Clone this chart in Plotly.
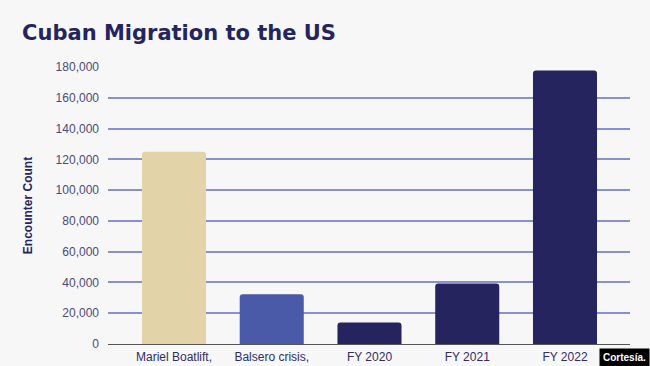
import plotly.graph_objects as go

categories = ["Mariel Boatlift,", "Balsero crisis,", "FY 2020", "FY 2021", "FY 2022"]
values = [125000, 32400, 14000, 39300, 177700]
colors = ["#e3d3a9", "#4a5aa8", "#25245e", "#25245e", "#25245e"]
y_ticks = list(range(0, 180001, 20000))
y_tick_labels = [f"{v:,}" for v in y_ticks]

fig = go.Figure(go.Bar(
    x=list(range(len(categories))), y=values, marker=dict(color=colors, line=dict(width=0)),
    width=0.655, hoverinfo="skip"))

fig.update_layout(
    width=650, height=366,
    paper_bgcolor="#f7f7f7", plot_bgcolor="#f7f7f7",
    margin=dict(l=108, r=20, t=67, b=22, autoexpand=False),
    barcornerradius=3,
    showlegend=False,
    title=dict(text="<b>Cuban Migration to the US</b>", x=0.034, xanchor="left",
               y=0.91, yanchor="middle",
               font=dict(family="DejaVu Sans", size=21, color="#25245e")),
    font=dict(family="Liberation Sans, Arial", size=12, color="#4a4a7a"),
)
fig.update_xaxes(
    tickmode="array", tickvals=list(range(len(categories))), ticktext=categories,
    range=[-0.675, 4.665], showgrid=False, zeroline=False, automargin=False,
    showline=False, ticks="", ticklabelstandoff=4,
    tickfont=dict(size=12, color="#2e2d66"))
fig.update_yaxes(
    range=[0, 180000], tickmode="array", tickvals=y_ticks, ticktext=y_tick_labels,
    showgrid=True, gridcolor="#8890d0", gridwidth=1.5, automargin=False,
    zeroline=True, zerolinecolor="#555555", zerolinewidth=1,
    ticks="", ticklabelstandoff=8, tickfont=dict(size=12, color="#4a4a7a"),
    title=dict(text="<b>Encounter Count</b>", font=dict(size=12, color="#25245e"), standoff=20))

fig.add_annotation(text="<b>Cortesía.</b>", x=1, xref="paper", xanchor="right",
                   y=0, yref="paper", yanchor="top", yshift=-4, xshift=20,
                   showarrow=False, bgcolor="#000000",
                   font=dict(size=10, color="#ffffff"), borderpad=3)

fig.write_html("out.html", config={"displayModeBar": False},
               post_script="document.body.style.margin='0';")
